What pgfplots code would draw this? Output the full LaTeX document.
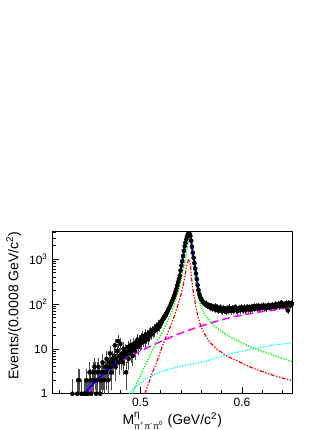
\documentclass[border=0pt]{standalone}
\usepackage{fontspec}
\setmainfont{Liberation Sans}
\usepackage{pgfplots}
\usepackage{pgfplotstable}
\pgfplotsset{compat=1.18}

\definecolor{rblue}{RGB}{0,0,255}
\definecolor{rmag}{RGB}{255,0,255}
\definecolor{rcyan}{RGB}{0,255,255}
\definecolor{rgreen}{RGB}{0,255,0}
\definecolor{rred}{RGB}{255,0,0}

% events per 0.0008 GeV bin (empty bins left out)
\pgfplotstableread{
x y
0.4332 1
0.4380 1
0.4388 2
0.4396 2
0.4420 1
0.4444 1
0.4460 1
0.4468 2
0.4476 1
0.4484 1
0.4500 3
0.4508 2
0.4516 1
0.4524 2
0.4532 3
0.4540 2
0.4548 4
0.4556 3
0.4564 1
0.4572 2
0.4580 3
0.4588 4
0.4596 2
0.4604 1
0.4612 3
0.4620 2
0.4628 5
0.4636 3
0.4644 2
0.4652 4
0.4660 3
0.4668 6
0.4676 4
0.4684 2
0.4692 5
0.4700 8
0.4708 4
0.4716 3
0.4724 6
0.4732 5
0.4740 7
0.4748 12
0.4756 4
0.4764 6
0.4772 9
0.4780 15
0.4788 5
0.4796 7
0.4804 13
0.4812 6
0.4820 8
0.4828 5
0.4836 10
0.4844 7
0.4852 9
0.4860 3
0.4868 8
0.4876 11
0.4884 6
0.4892 9
0.4900 12
0.4908 8
0.4916 10
0.4924 7
0.4932 13
0.4940 11
0.4948 9
0.4956 14
0.4964 12
0.4972 16
0.4980 11
0.4988 15
0.4996 13
0.5004 17
0.5012 14
0.5020 19
0.5028 16
0.5036 18
0.5044 15
0.5052 21
0.5060 18
0.5068 20
0.5076 17
0.5084 23
0.5092 20
0.5100 24
0.5108 21
0.5116 26
0.5124 23
0.5132 28
0.5140 25
0.5148 29
0.5156 31
0.5164 28
0.5172 33
0.5180 35
0.5188 31
0.5196 38
0.5204 41
0.5212 40
0.5220 45
0.5228 48
0.5236 53
0.5244 55
0.5252 60
0.5260 64
0.5268 69
0.5276 76
0.5284 82
0.5292 90
0.5300 100
0.5308 110
0.5316 122
0.5324 135
0.5332 152
0.5340 170
0.5348 195
0.5356 222
0.5364 262
0.5372 310
0.5380 365
0.5388 430
0.5396 560
0.5404 720
0.5412 900
0.5420 1180
0.5428 1550
0.5436 1950
0.5444 2350
0.5452 2800
0.5460 3250
0.5468 3600
0.5476 3800
0.5484 3700
0.5492 3300
0.5500 2600
0.5508 1900
0.5516 1400
0.5524 1080
0.5532 820
0.5540 620
0.5548 480
0.5556 360
0.5564 265
0.5572 205
0.5580 168
0.5588 145
0.5596 134
0.5604 124
0.5612 115
0.5620 108
0.5628 105
0.5636 99
0.5644 103
0.5652 96
0.5660 92
0.5668 95
0.5676 88
0.5684 90
0.5692 84
0.5700 91
0.5708 80
0.5716 86
0.5724 79
0.5732 88
0.5740 76
0.5748 83
0.5756 85
0.5764 72
0.5772 80
0.5780 77
0.5788 84
0.5796 74
0.5804 70
0.5812 79
0.5820 82
0.5828 73
0.5836 77
0.5844 68
0.5852 80
0.5860 75
0.5868 71
0.5876 83
0.5884 76
0.5892 70
0.5900 78
0.5908 81
0.5916 72
0.5924 75
0.5932 86
0.5940 74
0.5948 79
0.5956 70
0.5964 77
0.5972 82
0.5980 73
0.5988 80
0.5996 85
0.6004 76
0.6012 74
0.6020 83
0.6028 78
0.6036 72
0.6044 81
0.6052 87
0.6060 77
0.6068 80
0.6076 84
0.6084 75
0.6092 86
0.6100 79
0.6108 82
0.6116 90
0.6124 78
0.6132 84
0.6140 88
0.6148 80
0.6156 83
0.6164 92
0.6172 79
0.6180 86
0.6188 89
0.6196 82
0.6204 87
0.6212 93
0.6220 84
0.6228 88
0.6236 80
0.6244 91
0.6252 86
0.6260 95
0.6268 83
0.6276 89
0.6284 92
0.6292 87
0.6300 96
0.6308 90
0.6316 85
0.6324 94
0.6332 99
0.6340 88
0.6348 92
0.6356 101
0.6364 90
0.6372 96
0.6380 93
0.6388 108
0.6396 91
0.6404 97
0.6412 100
0.6420 94
0.6428 89
0.6436 103
0.6444 98
0.6452 72
0.6460 106
0.6468 99
0.6476 93
0.6484 104
0.6492 101
}\datatab

\begin{document}
\begin{tikzpicture}
\useasboundingbox (-39.2pt,-27.2pt) rectangle (209.8pt,295.3pt);
\begin{axis}[
    at={(0,0)}, anchor=south west,
    scale only axis, width=180pt, height=121.8pt,
    xmin=0.4133, xmax=0.6495,
    ymode=log, ymin=1, ymax=4200,
    axis line style={line width=0.5pt},
    tick align=inside, xtick pos=left, ytick pos=left,
    tick style={black, line width=0.5pt},
    major tick length=5pt, minor tick length=2.6pt,
    xtick={0.5,0.6}, xticklabels={0.5,0.6},
    minor xtick={0.42,0.44,0.46,0.48,0.52,0.54,0.56,0.58,0.62,0.64},
    ytick={1,10,100,1000},
    yticklabels={1,10,10\textsuperscript{2},10\textsuperscript{3}},
    minor ytick={2,3,4,5,6,7,8,9,20,30,40,50,60,70,80,90,200,300,400,500,600,700,800,900,2000,3000,4000},
    ticklabel style={font=\fontsize{9}{10}\selectfont},
    xticklabel style={anchor=base, yshift=-9.8pt},
    xlabel={M$_{\mbox{\fontsize{6.5}{7}\selectfont π\textsuperscript{+}π\textsuperscript{-}π\textsuperscript{0}}}^{\mbox{\fontsize{7.5}{8}\selectfont η}}$ (GeV/c\textsuperscript{2})},
    xlabel style={font=\fontsize{10.5}{12}\selectfont, at={(axis description cs:0.5,0)}, anchor=base, yshift=-23pt},
    ylabel={Events/(0.0008 GeV/c\textsuperscript{2})},
    ylabel style={font=\fontsize{10.5}{12}\selectfont, at={(axis description cs:-0.16,1)}, anchor=east, inner sep=0pt},
]

% data with Poisson errors
\addplot[only marks, mark=*, mark size=1.5pt, black,
    error bars/.cd, y dir=both, y explicit,
    error bar style={line width=0.35pt, black!70},
    error mark options={mark size=0.9pt, line width=0.35pt, black!70}]
    table[x=x, y=y, y error expr={\thisrow{y}<1.5 ? 0.99 : sqrt(\thisrow{y})}] {\datatab};

% background
\addplot[rmag, line width=1.1pt, dash pattern=on 6pt off 3pt] coordinates {
(0.4487,1.0)(0.452,1.3)(0.456,1.7)(0.460,2.1)(0.465,2.8)(0.470,3.4)(0.476,4.3)(0.482,5.3)(0.488,6.4)(0.494,7.6)(0.500,8.9)(0.506,10.4)(0.512,12.1)(0.520,14.6)(0.528,17.5)(0.536,20.8)(0.544,24.4)(0.552,28.3)(0.560,32.5)(0.570,38.5)(0.580,44.5)(0.590,51)(0.600,57)(0.610,62.5)(0.620,68)(0.630,73.5)(0.640,79)(0.6495,84)
};

% cyan component
\addplot[rcyan, line width=0.9pt, dash pattern=on 1pt off 1pt] coordinates {
(0.4887,1)(0.495,1.4)(0.5061,2.2)(0.515,2.8)(0.5258,3.4)(0.540,4.1)(0.5585,4.9)(0.575,6.3)(0.5913,8)(0.610,10)(0.630,12)(0.6495,13.8)
};

% green component
\addplot[rgreen, line width=1pt, dash pattern=on 1pt off 1pt] coordinates {
(0.492,1)(0.497,1.8)(0.502,3.2)(0.507,5.5)(0.512,9.5)(0.517,15.5)(0.522,24)(0.526,38)(0.530,60)(0.534,110)(0.538,220)(0.541,430)(0.544,900)(0.546,1700)(0.5470,2400)(0.5479,3100)(0.5488,3000)(0.5496,2600)(0.5504,1900)(0.5512,1350)(0.5520,950)(0.5528,650)(0.5536,440)(0.5546,300)(0.5556,210)(0.5569,150)(0.5585,110)(0.5610,75)(0.5635,58)(0.5684,42)(0.5730,32)(0.5782,26)(0.5860,20)(0.5946,15.8)(0.6070,11.5)(0.6208,8.7)(0.635,6.7)(0.6495,5.2)
};

% red component
\addplot[rred, line width=0.9pt, dash pattern=on 3pt off 1.2pt on 1pt off 1.2pt on 1pt off 1.2pt] coordinates {
(0.5045,1)(0.508,1.7)(0.512,3)(0.516,5)(0.5192,8)(0.522,12)(0.525,18)(0.528,26)(0.5307,36)(0.534,60)(0.5365,90)(0.5389,130)(0.5405,185)(0.5421,265)(0.5437,400)(0.545,600)(0.5462,800)(0.5472,950)(0.5480,1000)(0.5490,850)(0.5504,370)(0.5520,190)(0.5536,120)(0.5552,75)(0.5569,50)(0.5595,32)(0.5635,21)(0.568,14.5)(0.575,10)(0.585,7)(0.600,4.8)(0.611,3.7)(0.630,2.6)(0.6495,1.95)
};

% total fit
\addplot[rblue, line width=1.5pt] coordinates {
(0.4455,1.0)(0.450,1.35)(0.455,1.8)(0.460,2.35)(0.466,3.1)(0.472,4.0)(0.478,5.2)(0.485,6.8)(0.492,8.8)(0.4995,12.0)(0.506,15.8)(0.511,20)(0.516,26.5)(0.519,33)(0.5224,43)(0.525,56)(0.5274,73)(0.530,98)(0.5323,132)(0.5340,170)(0.5356,220)(0.5372,311)(0.5380,365)(0.5388,440)(0.5396,560)(0.5405,735)(0.5414,950)(0.5422,1200)(0.5430,1600)(0.5438,2050)(0.5446,2450)(0.5454,2850)(0.5462,3300)(0.5470,3650)(0.5479,3800)(0.5488,3600)(0.5496,3000)(0.5504,2200)(0.5512,1600)(0.5520,1200)(0.5528,950)(0.5536,720)(0.5546,520)(0.5556,360)(0.5569,220)(0.5585,155)(0.5602,128)(0.5625,110)(0.5651,100)(0.570,88)(0.5733,82)(0.580,78)(0.5864,76)(0.595,77)(0.6094,82)(0.6274,90)(0.6495,100)
};
\end{axis}
\end{tikzpicture}
\end{document}
